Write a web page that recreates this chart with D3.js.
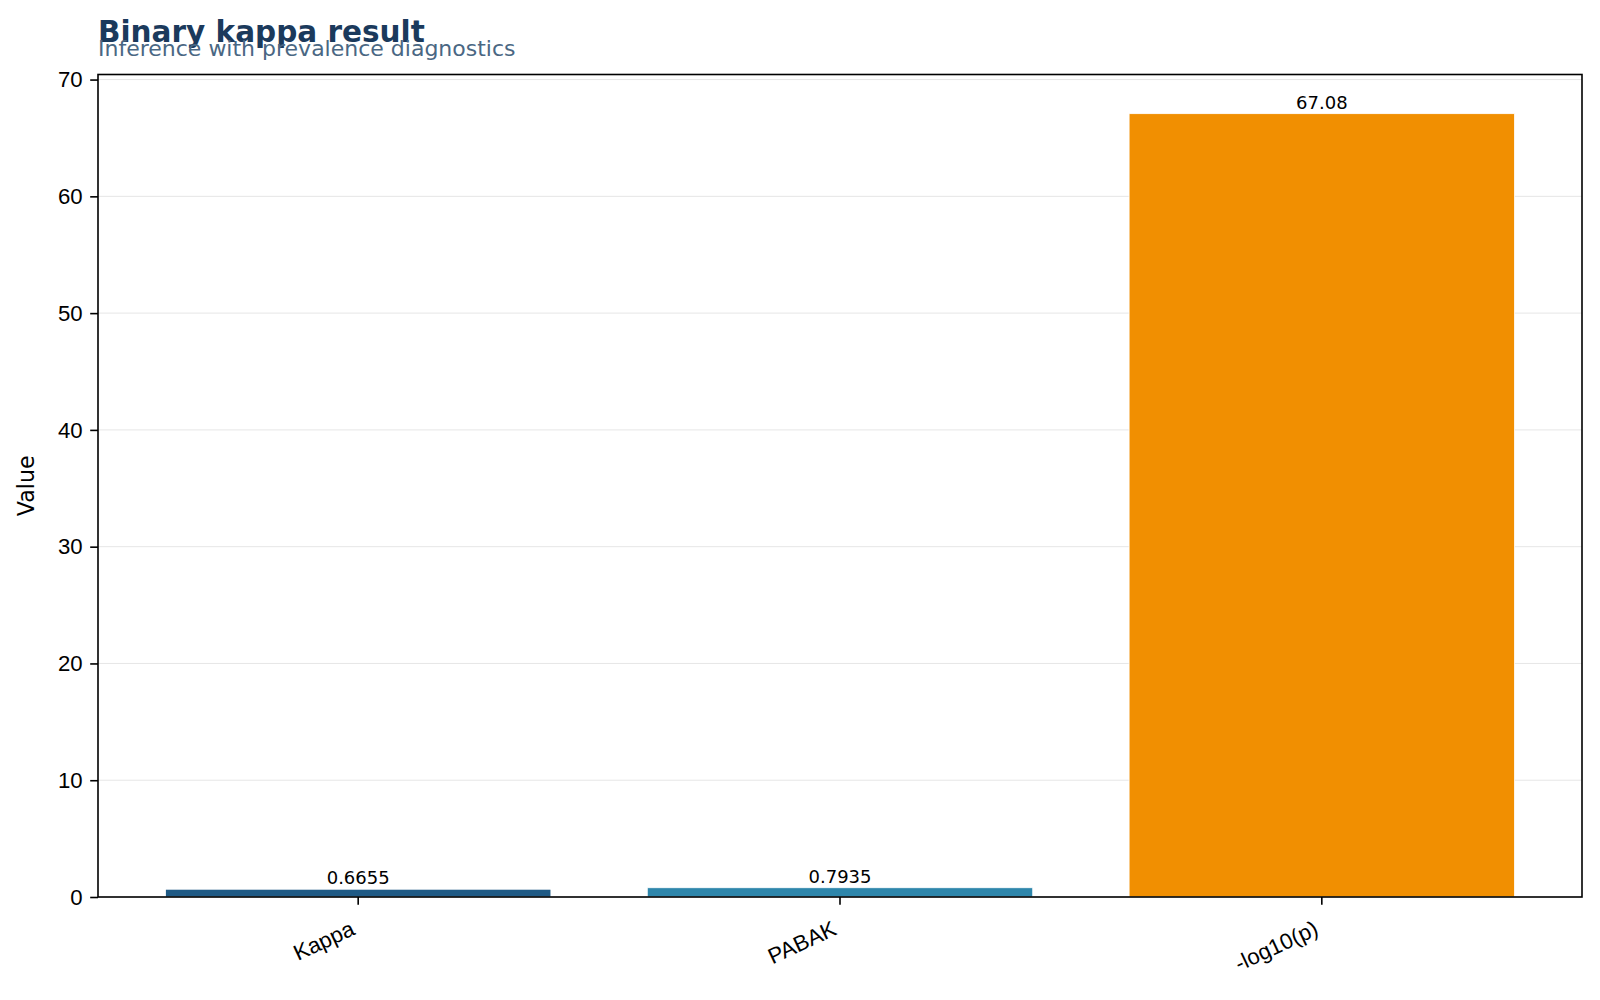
<!DOCTYPE html>
<meta charset="utf-8">
<style>
body { margin: 0; background: #fff; }
svg { font-family: "DejaVu Sans", sans-serif; }
.grid line { stroke: #e6e6e6; stroke-width: 1; }
.axis path, .axis line { stroke: #000; }
.axis text { font-size: 22.2px; fill: #000; }
</style>
<body>
<script src="https://cdn.jsdelivr.net/npm/d3@7"></script>
<script>

var categories = ["Kappa", "PABAK", "-log10(p)"];
var values = [0.6655, 0.7935, 67.08];
var valueLabels = ["0.6655", "0.7935", "67.08"];
var colors = ["#1f5a85", "#2e86ab", "#f18f01"];
var yTicks = [0, 10, 20, 30, 40, 50, 60, 70];

var W = 1600, H = 1000;
var m = {top: 74.5, right: 18, bottom: 103, left: 98};
var w = W - m.left - m.right,
    h = H - m.top - m.bottom;

var svg = d3.select("body").append("svg")
    .attr("width", W)
    .attr("height", H);

// title + subtitle
svg.append("text")
    .attr("x", 98).attr("y", 41.5)
    .style("font-size", "29.5px").style("font-weight", "bold")
    .attr("fill", "#1b3a5c")
    .text("Binary kappa result");
svg.append("text")
    .attr("x", 98).attr("y", 56)
    .style("font-size", "22px")
    .attr("fill", "#4a6783")
    .text("Inference with prevalence diagnostics");

var g = svg.append("g")
    .attr("transform", "translate(" + m.left + "," + m.top + ")");

var x = d3.scaleBand().domain(categories).range([0, w])
    .paddingInner(0.2).paddingOuter(0.14);
var y = d3.scaleLinear().domain([0, 67.08 * 1.05]).range([h, 0]);

// gridlines
g.append("g").attr("class", "grid")
  .selectAll("line").data(yTicks).enter().append("line")
    .attr("x1", 0).attr("x2", w)
    .attr("y1", function(d) { return y(d); })
    .attr("y2", function(d) { return y(d); });

// bars
g.selectAll("rect.bar")
    .data(values)
  .enter().append("rect")
    .attr("class", "bar")
    .attr("x", function(d, i) { return x(categories[i]); })
    .attr("width", x.bandwidth())
    .attr("y", function(d) { return y(d); })
    .attr("height", function(d) { return h - y(d); })
    .attr("fill", function(d, i) { return colors[i]; })
    .attr("stroke", "#fff")
    .attr("stroke-width", 0.8);

// value labels
g.selectAll("text.value")
    .data(values)
  .enter().append("text")
    .attr("class", "value")
    .attr("x", function(d, i) { return x(categories[i]) + x.bandwidth() / 2; })
    .attr("y", function(d) { return y(d) - 5; })
    .attr("text-anchor", "middle")
    .style("font-size", "18px")
    .text(function(d, i) { return valueLabels[i]; });

// y axis
var yAxis = g.append("g").attr("class", "axis")
    .call(d3.axisLeft(y).tickValues(yTicks).tickSize(7.8).tickPadding(7.5));
yAxis.select(".domain").remove();
yAxis.selectAll("line").attr("stroke-width", 1.6);

// x axis
var xAxis = g.append("g").attr("class", "axis")
    .attr("transform", "translate(0," + h + ")")
    .call(d3.axisBottom(x).tickSize(7.8).tickPadding(7.8));
xAxis.select(".domain").remove();
xAxis.selectAll("line").attr("stroke-width", 1.6);
xAxis.selectAll("text")
    .attr("text-anchor", "end")
    .attr("dy", null)
    .attr("y", null)
    .attr("transform", "translate(-2,37) rotate(-25)");

// frame
g.append("rect")
    .attr("width", w).attr("height", h)
    .attr("fill", "none")
    .attr("stroke", "#000")
    .attr("stroke-width", 1.6);

// y label
svg.append("text")
    .attr("transform", "translate(34," + (m.top + h / 2) + ") rotate(-90)")
    .attr("text-anchor", "middle")
    .style("font-size", "22.2px")
    .text("Value");

</script>
